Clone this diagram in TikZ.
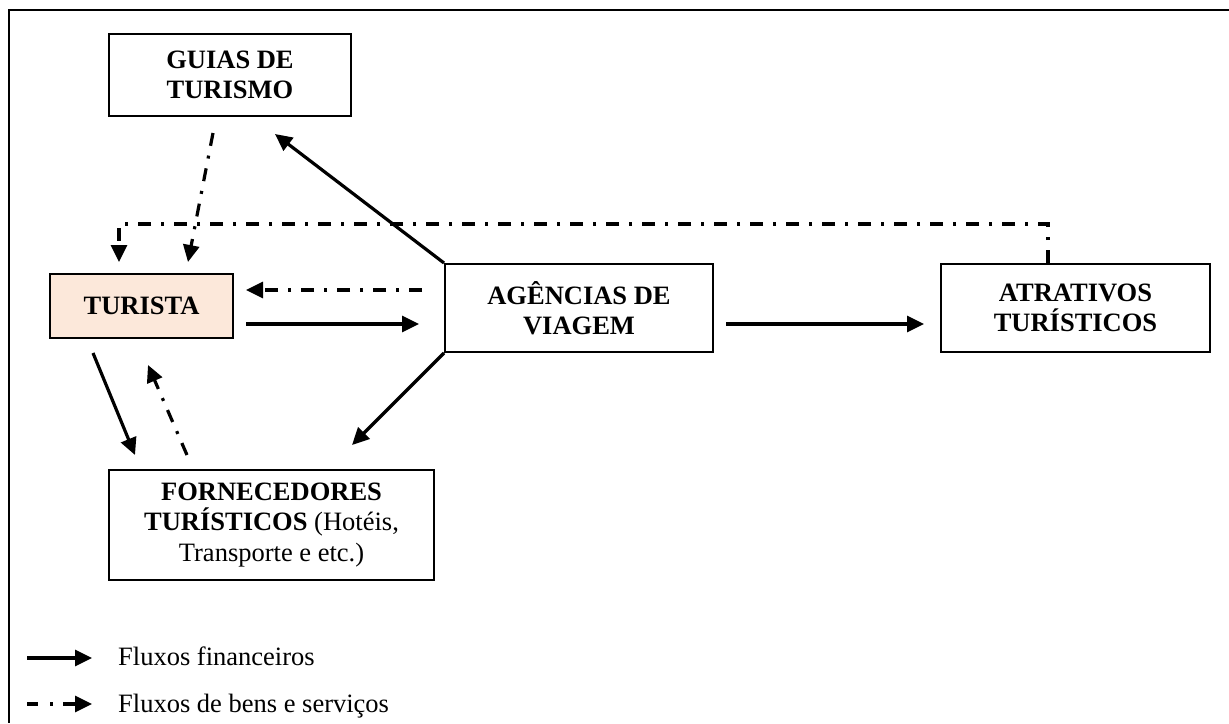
\documentclass[tikz,border=0pt]{standalone}
\usepackage{fontspec}
\setmainfont{Liberation Serif}
\usetikzlibrary{arrows.meta,calc}

\definecolor{peach}{RGB}{252,232,218}

\begin{document}
\begin{tikzpicture}[x=1pt,y=-1pt,
  box/.style={draw=black, line width=2pt, rectangle, align=center,
              inner sep=0pt, font=\fontsize{26.5}{29.5}\selectfont},
  fin/.style={line width=3.2pt, -{Triangle[length=17pt,width=16pt]}},
  goods/.style={line width=3.2pt, dash pattern=on 13pt off 10pt on 3pt off 10pt,
                -{Triangle[length=17pt,width=16pt]}},
  legtext/.style={anchor=base west, inner sep=0pt, font=\fontsize{26.5}{29.5}\selectfont},
  frame/.style={line width=2.4pt}]
\useasboundingbox (0,0) rectangle (1229,723);

% outer frame
\draw[frame] (1229,10) -- (9,10) -- (9,723);

% actors
\node[box, minimum width=242pt, minimum height=82pt] (guias) at (230,75)
  {\textbf{GUIAS DE}\\\textbf{TURISMO}};
\node[box, fill=peach, minimum width=183pt, minimum height=64pt] (turista) at (141.5,306)
  {\textbf{TURISTA}};
\node[box, minimum width=268pt, minimum height=88pt] (agencias) at (579,308)
  {\textbf{AGÊNCIAS DE}\\\textbf{VIAGEM}};
\node[box, minimum width=269pt, minimum height=88pt] (atrativos) at (1075.5,308)
  {\textbf{ATRATIVOS}\\\textbf{TURÍSTICOS}};
\node[box, minimum width=325pt, minimum height=110pt, font=\fontsize{26.5}{30.5}\selectfont] (forn) at (271.5,525)
  {\textbf{FORNECEDORES}\\\textbf{TURÍSTICOS} (Hotéis,\\Transporte e etc.)};

% flows of goods and services
\draw[goods] ($(guias.south)+(-17,16)$) -- ($(turista.north)+(46.5,-11)$);
\draw[goods] (atrativos.north -| 1048,0) -- ++(0,-39) -| ($(turista.north)+(-22.5,-11)$);
\draw[goods] ($(agencias.west)+(-22,-18)$) -- ($(turista.east)+(12,-16)$);
\draw[goods] ($(forn.north)+(-84.5,-14)$) -- ($(turista.south)+(6.5,26)$);

% financial flows
\draw[fin] (agencias.north west) -- ($(guias.south)+(45,17)$);
\draw[fin] ($(turista.east)+(12,18)$) -- ($(agencias.west)+(-25,16)$);
\draw[fin] ($(agencias.east)+(12,16)$) -- ($(atrativos.west)+(-16,16)$);
\draw[fin] (agencias.south west) -- ($(forn.north)+(80.5,-24)$);
\draw[fin] ($(turista.south)+(-48.5,14)$) -- ($(forn.north)+(-136.5,-14)$);

% legend
\node[legtext] (legfin) at (118,665) {Fluxos financeiros};
\node[legtext] (leggoods) at (118,712) {Fluxos de bens e serviços};
\coordinate (legfinend) at (92,658);
\coordinate (leggoodsend) at (92,704);
\draw[fin] ($(legfinend)+(-65,0)$) -- (legfinend);
\draw[goods, dash pattern=on 11pt off 12pt on 3pt off 10pt on 60pt off 1pt]
  ($(leggoodsend)+(-65,0)$) -- (leggoodsend);
\end{tikzpicture}
\end{document}
